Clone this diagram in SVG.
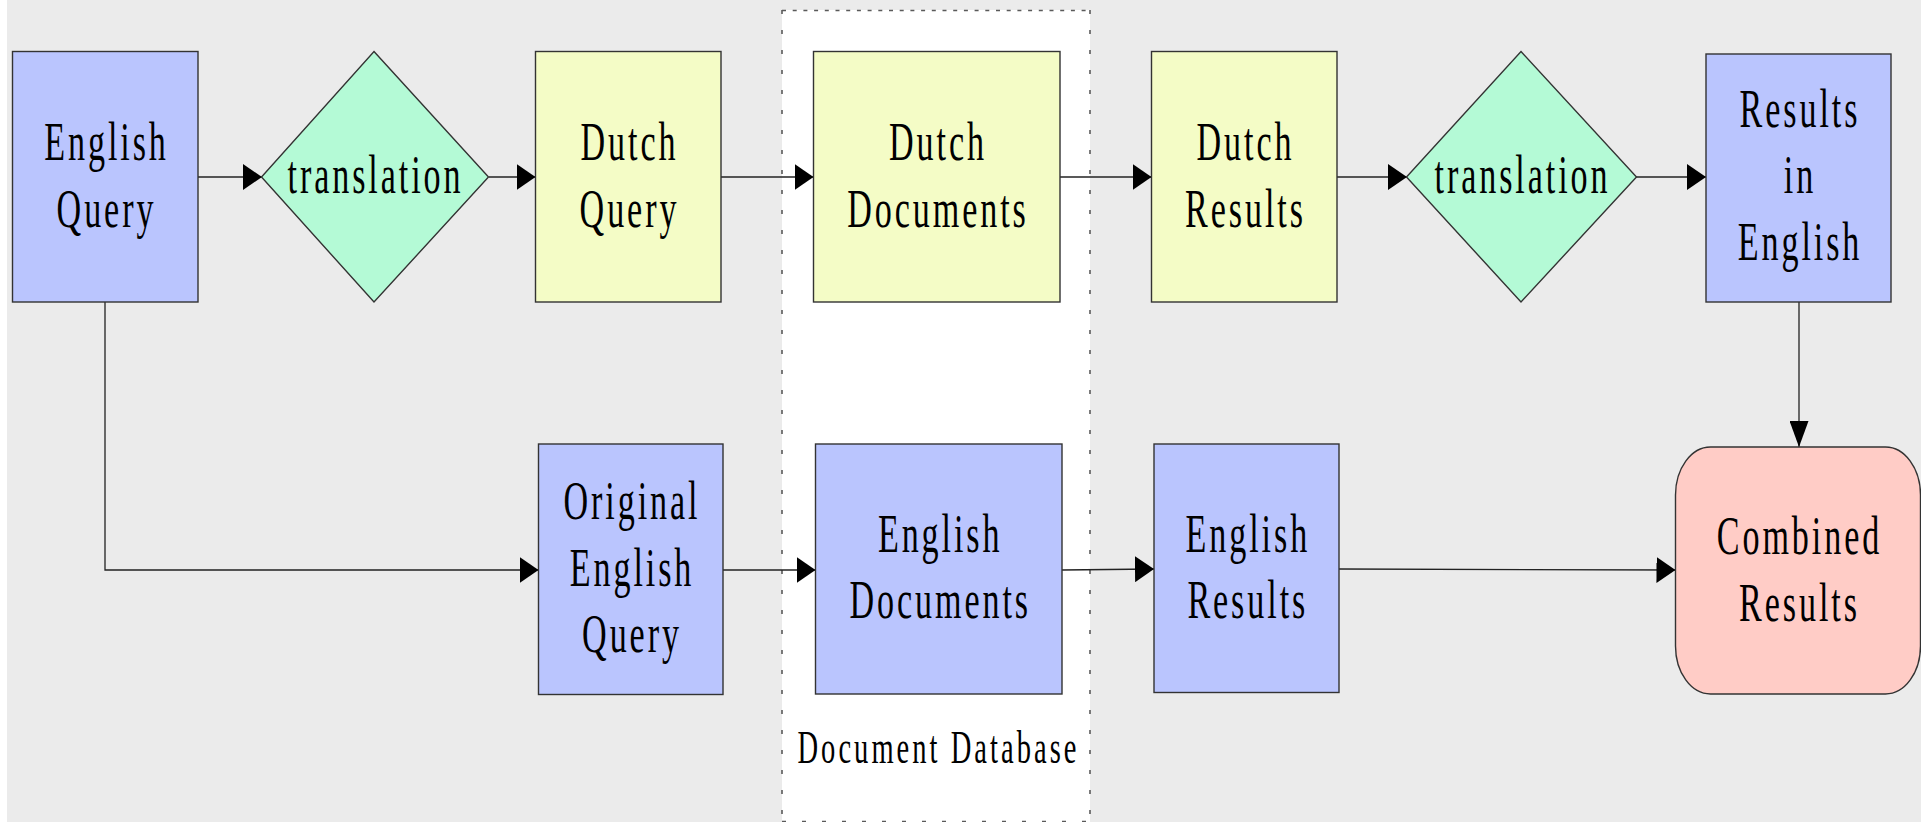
<svg xmlns="http://www.w3.org/2000/svg" width="1921" height="822" viewBox="0 0 1921 822">
  <style>
    .box { stroke: #333333; stroke-width: 1.4; }
    .blue { fill: #bac5fe; }
    .yellow { fill: #f4fcc6; }
    .green { fill: #b4fad6; }
    .pink { fill: #ffccc6; }
    .lbl { font-family: "Liberation Serif", "Times New Roman", serif; font-size: 55px; letter-spacing: 4.7px; text-anchor: middle; fill: #000000; }
    .cap { font-size: 46px; letter-spacing: 4.9px; }
    .wire { fill: none; stroke: #222222; stroke-width: 1.3; }
    .frame { stroke: #5a5a5a; stroke-width: 1.6; fill: none; }
  </style>
  <defs>
    <marker id="ah" markerUnits="userSpaceOnUse" markerWidth="19" markerHeight="26" refX="19" refY="13" orient="auto">
      <path d="M0,0 L19,13 L0,26 z" fill="#000000"/>
    </marker>
    <marker id="av" markerUnits="userSpaceOnUse" markerWidth="26" markerHeight="19" refX="26" refY="9.5" orient="auto">
      <path d="M0,0 L26,9.5 L0,19 z" fill="#000000"/>
    </marker>
  </defs>

  <!-- canvas -->
  <rect x="0" y="0" width="1921" height="822" fill="#ffffff"/>
  <rect x="7" y="0" width="1914" height="822" fill="#ebebeb"/>

  <!-- document database region -->
  <g id="document-database">
    <rect x="782" y="10" width="308" height="812" fill="#ffffff"/>
    <line class="frame" x1="782" y1="10.5" x2="1090" y2="10.5" stroke-dasharray="4 6.7"/>
    <line class="frame" x1="782" y1="10" x2="782" y2="822" stroke-dasharray="4 16"/>
    <line class="frame" x1="1090" y1="10" x2="1090" y2="822" stroke-dasharray="4 16"/>
    <line class="frame" x1="782" y1="821.5" x2="1090" y2="821.5" stroke-dasharray="4 16" stroke="#bbbbbb"/>
    <text class="lbl cap" transform="translate(938.5 762.7) scale(0.62 1)">Document Database</text>
  </g>

  <!-- connectors -->
  <g id="connectors">
    <line class="wire" x1="198" y1="177" x2="262" y2="177" marker-end="url(#ah)"/>
    <line class="wire" x1="489" y1="177" x2="535.5" y2="177" marker-end="url(#ah)"/>
    <line class="wire" x1="721" y1="177" x2="813.5" y2="177" marker-end="url(#ah)"/>
    <line class="wire" x1="1060" y1="177" x2="1151.5" y2="177" marker-end="url(#ah)"/>
    <line class="wire" x1="1337" y1="177" x2="1407" y2="177" marker-end="url(#ah)"/>
    <line class="wire" x1="1636" y1="177" x2="1706" y2="177" marker-end="url(#ah)"/>
    <line class="wire" x1="1799" y1="302" x2="1799" y2="447" marker-end="url(#av)"/>
    <path class="wire" d="M105,302 V570 H538.5" marker-end="url(#ah)"/>
    <line class="wire" x1="723" y1="570" x2="815.5" y2="570" marker-end="url(#ah)"/>
    <line class="wire" x1="1062" y1="570" x2="1154" y2="569" marker-end="url(#ah)"/>
    <line class="wire" x1="1339" y1="569" x2="1675.5" y2="570" marker-end="url(#ah)"/>
  </g>

  <!-- top row -->
  <g id="english-query">
    <rect class="box blue" x="12.5" y="51.5" width="185.5" height="250.5"/>
    <text class="lbl" transform="translate(106.5 160) scale(0.62 1)"><tspan x="0" y="0">English</tspan><tspan x="0" y="67">Query</tspan></text>
  </g>
  <g id="translation-1">
    <polygon class="box green" points="374,51.5 488.5,177 374,302 261.5,177"/>
    <text class="lbl" transform="translate(375.5 193) scale(0.62 1)">translation</text>
  </g>
  <g id="dutch-query">
    <rect class="box yellow" x="535.5" y="51.5" width="185.5" height="250.5"/>
    <text class="lbl" transform="translate(629.5 160) scale(0.62 1)"><tspan x="0" y="0">Dutch</tspan><tspan x="0" y="67">Query</tspan></text>
  </g>
  <g id="dutch-documents">
    <rect class="box yellow" x="813.5" y="51.5" width="246.5" height="250.5"/>
    <text class="lbl" transform="translate(938 160) scale(0.62 1)"><tspan x="0" y="0">Dutch</tspan><tspan x="0" y="67">Documents</tspan></text>
  </g>
  <g id="dutch-results">
    <rect class="box yellow" x="1151.5" y="51.5" width="185.5" height="250.5"/>
    <text class="lbl" transform="translate(1245.5 160) scale(0.62 1)"><tspan x="0" y="0">Dutch</tspan><tspan x="0" y="67">Results</tspan></text>
  </g>
  <g id="translation-2">
    <polygon class="box green" points="1521,51.5 1636.5,177 1521,302 1406.5,177"/>
    <text class="lbl" transform="translate(1522.5 193) scale(0.62 1)">translation</text>
  </g>
  <g id="results-in-english">
    <rect class="box blue" x="1706" y="54" width="185" height="248"/>
    <text class="lbl" transform="translate(1800 126.7) scale(0.62 1)"><tspan x="0" y="0">Results</tspan><tspan x="0" y="66.6">in</tspan><tspan x="0" y="133.3">English</tspan></text>
  </g>

  <!-- bottom row -->
  <g id="original-english-query">
    <rect class="box blue" x="538.5" y="444" width="184.5" height="250.5"/>
    <text class="lbl" transform="translate(632 519.3) scale(0.62 1)"><tspan x="0" y="0">Original</tspan><tspan x="0" y="66.4">English</tspan><tspan x="0" y="133">Query</tspan></text>
  </g>
  <g id="english-documents">
    <rect class="box blue" x="815.5" y="444" width="246.5" height="250"/>
    <text class="lbl" transform="translate(940.2 552) scale(0.62 1)"><tspan x="0" y="0">English</tspan><tspan x="0" y="66.5">Documents</tspan></text>
  </g>
  <g id="english-results">
    <rect class="box blue" x="1154" y="444" width="185" height="248.5"/>
    <text class="lbl" transform="translate(1247.8 552) scale(0.62 1)"><tspan x="0" y="0">English</tspan><tspan x="0" y="66.5">Results</tspan></text>
  </g>
  <g id="combined-results">
    <rect class="box pink" x="1675.5" y="447" width="245" height="247" rx="35" ry="48"/>
    <text class="lbl" transform="translate(1799.5 554) scale(0.62 1)"><tspan x="0" y="0">Combined</tspan><tspan x="0" y="66.7">Results</tspan></text>
  </g>
</svg>
